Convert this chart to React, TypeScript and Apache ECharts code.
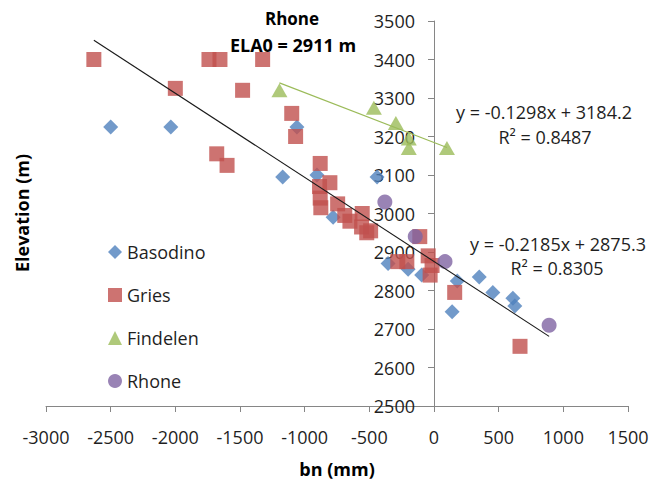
import { useEffect, useRef } from "react";
import * as echarts from "echarts";

// Mass balance (bn, mm) against elevation (m) for four glaciers
const basodino: [number, number][] = [
  [-2500, 3225], [-2035, 3225], [-1060, 3225], [-1170, 3095], [-905, 3100],
  [-440, 3095], [-780, 2990], [-355, 2870], [-200, 2855], [-95, 2840],
  [180, 2825], [140, 2745], [350, 2835], [455, 2795], [610, 2780], [625, 2760],
];

const gries: [number, number][] = [
  [-2630, 3400], [-1740, 3400], [-1655, 3400], [-1325, 3400], [-2000, 3325],
  [-1480, 3320], [-1100, 3260], [-1070, 3200], [-1680, 3155], [-1600, 3125],
  [-880, 3130], [-805, 3080], [-885, 3070], [-880, 3040], [-875, 3015],
  [-745, 3025], [-690, 2995], [-650, 2980], [-555, 3000], [-560, 2965],
  [-520, 2950], [-490, 2955], [-110, 2940], [-280, 2875], [-210, 2875],
  [-45, 2890], [-15, 2865], [-30, 2840], [160, 2795], [665, 2655],
];

const findelen: [number, number][] = [
  [-1195, 3320], [-465, 3275], [-295, 3235], [-195, 3195], [-195, 3170], [100, 3170],
];

const rhone: [number, number][] = [
  [-380, 3030], [-145, 2940], [85, 2875], [890, 2710],
];

// Linear fits: [slope, intercept], and their R²
const fitAll = [-0.2185, 2875.3];
const fitAllR2 = 0.8305;
const fitFindelen = [-0.1298, 3184.2];
const fitFindelenR2 = 0.8487;

const titleLines = ["Rhone", "ELA0 = 2911 m"];
const xName = "bn (mm)";
const yName = "Elevation (m)";

const X_MIN = -3000;
const X_MAX = 1500;

const FONT = "'Open Sans', 'Liberation Sans', sans-serif";
const AXIS_GRAY = "#868686";
const TEXT = "#1f1f1f";

const GRID = { left: 46, right: 26, top: 21, bottom: 75 };
const WIDTH = 654;
const HEIGHT = 481;

const fitLine = (coef: number[], pts: [number, number][]) => {
  const xs = pts.map((p) => p[0]);
  const lo = Math.min(...xs);
  const hi = Math.max(...xs);
  return [
    [lo, coef[0] * lo + coef[1]],
    [hi, coef[0] * hi + coef[1]],
  ];
};

const eqText = (coef: number[]) =>
  `y = ${coef[0].toFixed(4)}x + ${coef[1].toFixed(1)}`;

export default function App() {
  const ref = useRef<HTMLDivElement>(null);

  useEffect(() => {
    if (!ref.current) return;
    const chart = echarts.init(ref.current, undefined, { renderer: "svg" });
    const all = [...basodino, ...gries, ...findelen, ...rhone];

    // the vertical axis sits at bn = 0: shift it right from the grid's left edge
    const plotW = WIDTH - GRID.left - GRID.right;
    const zeroShift = ((0 - X_MIN) / (X_MAX - X_MIN)) * plotW;

    const txt = (
      text: string,
      x: number,
      y: number,
      size: number,
      bold = false,
      rotation = 0
    ) => ({
      type: "text",
      x,
      y,
      rotation,
      z: 100,
      style: {
        text,
        align: "center",
        verticalAlign: "middle",
        fontFamily: FONT,
        fontSize: size,
        fontWeight: bold ? "bold" : "normal",
        fill: bold ? "#000" : TEXT,
      },
    });

    chart.setOption({
      animation: false,
      grid: GRID,
      xAxis: {
        type: "value",
        min: X_MIN,
        max: X_MAX,
        interval: 500,
        splitLine: { show: false },
        axisLine: { lineStyle: { color: AXIS_GRAY, width: 1 } },
        axisTick: { show: true, length: 6, lineStyle: { color: AXIS_GRAY } },
        axisLabel: {
          margin: 22,
          fontFamily: FONT,
          fontSize: 18,
          color: TEXT,
          formatter: (v: number) => String(v),
        },
      },
      yAxis: {
        type: "value",
        min: 2500,
        max: 3500,
        interval: 100,
        offset: -zeroShift,
        splitLine: { show: false },
        axisLine: { show: true, onZero: false, lineStyle: { color: AXIS_GRAY, width: 1 } },
        axisTick: { show: true, length: 6, lineStyle: { color: AXIS_GRAY } },
        axisLabel: {
          margin: 19,
          fontFamily: FONT,
          fontSize: 18,
          color: TEXT,
          formatter: (v: number) => String(v),
        },
      },
      legend: {
        orient: "vertical",
        left: 103,
        top: 238,
        itemWidth: 14,
        itemHeight: 14,
        itemGap: 25,
        textStyle: { fontFamily: FONT, fontSize: 18, color: TEXT, lineHeight: 18 },
        data: [
          { name: "Basodino", icon: "diamond" },
          { name: "Gries", icon: "rect" },
          { name: "Findelen", icon: "triangle" },
          { name: "Rhone", icon: "circle" },
        ],
      },
      series: [
        {
          name: "Basodino",
          type: "scatter",
          symbol: "diamond",
          symbolSize: 15,
          itemStyle: { color: "#4F81BD" },
          data: basodino,
        },
        {
          name: "Gries",
          type: "scatter",
          symbol: "rect",
          symbolSize: 15,
          itemStyle: { color: "#C0504D" },
          data: gries,
        },
        {
          name: "Findelen",
          type: "scatter",
          symbol: "triangle",
          symbolSize: [16, 14],
          itemStyle: { color: "#9BBB59" },
          data: findelen,
        },
        {
          name: "Rhone",
          type: "scatter",
          symbol: "circle",
          symbolSize: 15,
          itemStyle: { color: "#8064A2" },
          data: rhone,
        },
        {
          name: "fit-all",
          type: "line",
          z: 5,
          symbol: "none",
          silent: true,
          lineStyle: { color: "#1a1a1a", width: 1.1 },
          data: fitLine(fitAll, all),
        },
        {
          name: "fit-findelen",
          type: "line",
          z: 5,
          symbol: "none",
          silent: true,
          lineStyle: { color: "#9BBB59", width: 1.1 },
          data: fitLine(fitFindelen, findelen),
        },
      ],
      graphic: [
        txt(titleLines[0], 292, 18, 17, true),
        txt(titleLines[1], 293, 45, 18, true),
        txt(yName, 22, 213, 18, true, Math.PI / 2),
        txt(xName, 337, 469, 18, true),
        txt(eqText(fitFindelen), 544, 112, 18),
        txt(`R² = ${fitFindelenR2.toFixed(4)}`, 545, 137, 18),
        txt(eqText(fitAll), 558, 244, 18),
        txt(`R² = ${fitAllR2.toFixed(4)}`, 557, 268, 18),
      ],
    });

    return () => chart.dispose();
  }, []);

  return (
    <div
      ref={ref}
      style={{ position: "fixed", left: 0, top: 0, width: WIDTH, height: HEIGHT, background: "#fff" }}
    />
  );
}
